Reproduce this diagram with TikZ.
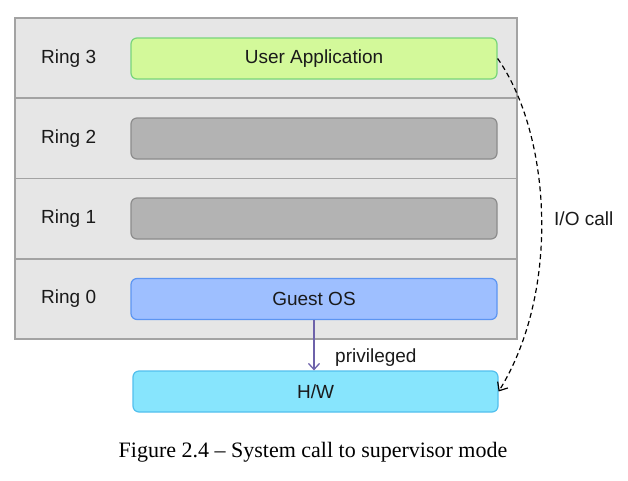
\documentclass[tikz,border=0pt]{standalone}
\usepackage{fontspec}
\setmainfont{Liberation Sans}
\newfontfamily\capfont{Liberation Serif}
\usetikzlibrary{arrows.meta}
\definecolor{rowfill}{HTML}{E6E6E6}
\definecolor{rowline}{HTML}{A3A3A3}
\definecolor{appfill}{HTML}{D3F99A}
\definecolor{appline}{HTML}{78D57A}
\definecolor{grayfill}{HTML}{B3B3B3}
\definecolor{grayline}{HTML}{8C8C8C}
\definecolor{osfill}{HTML}{9EBFFF}
\definecolor{osline}{HTML}{5C95F2}
\definecolor{hwfill}{HTML}{87E5FD}
\definecolor{hwline}{HTML}{52C0EE}
\definecolor{arrowpurple}{HTML}{6E62AA}
\definecolor{txt}{HTML}{1A1A1A}
\begin{document}
\begin{tikzpicture}[x=1pt,y=-1pt,
  every node/.style={inner sep=0pt, text=txt, font=\fontsize{19}{23}\selectfont},
  ringrow/.style={draw=rowline, line width=1.5pt, fill=rowfill, minimum width=502pt, minimum height=80.25pt},
  ringlabel/.style={anchor=west},
  bar/.style={rounded corners=6pt, line width=1.2pt, minimum width=366pt, minimum height=41pt},
  appbox/.style={bar, draw=appline, fill=appfill},
  graybox/.style={bar, draw=grayline, fill=grayfill},
  osbox/.style={bar, draw=osline, fill=osfill},
  hwbox/.style={bar, draw=hwline, fill=hwfill, minimum width=365pt},
]
\useasboundingbox (0,0) rectangle (628,480);
\fill[white] (0,0) rectangle (628,480);
% rows
\node[ringrow] (row3) at (266,58.1) {};
\node[ringrow] (row2) at (266,138.4) {};
\node[ringrow] (row1) at (266,218.6) {};
\node[ringrow] (row0) at (266,298.9) {};
% labels
\node[ringlabel] (l3) at (41,58.5) {Ring 3};
\node[ringlabel] (l2) at (41,138.5) {Ring 2};
\node[ringlabel] (l1) at (41,218.5) {Ring 1};
\node[ringlabel] (l0) at (41,298.5) {Ring 0};
% bars
\node[appbox] (app) at (314,58.5) {User Application};
\node[graybox] (r2) at (314,138.5) {};
\node[graybox] (r1) at (314,218.5) {};
\node[osbox] (guest) at (314,299) {Guest OS};
\node[hwbox] (hw) at (315.5,391.5) {H/W};
% privileged arrow
\draw[arrowpurple, line width=1.3pt, -{Straight Barb[length=6pt,width=11pt]}] (guest.south) -- (guest.south |- hw.north);
\node[anchor=base west] (priv) at (335,362) {privileged};
% I/O call
\draw[black, line width=1.2pt, dashed, dash pattern=on 5pt off 3.5pt, -{Straight Barb[length=7pt,width=12pt]}]
  (app.east) .. controls (551,134) and (561,291) .. (hw.east);
\node[anchor=west] (io) at (554,218.5) {I/O call};
% caption
\node[font=\capfont\fontsize{22}{26}\selectfont, text=black] (cap) at (313,452) {Figure 2.4 – System call to supervisor mode};
\end{tikzpicture}
\end{document}
